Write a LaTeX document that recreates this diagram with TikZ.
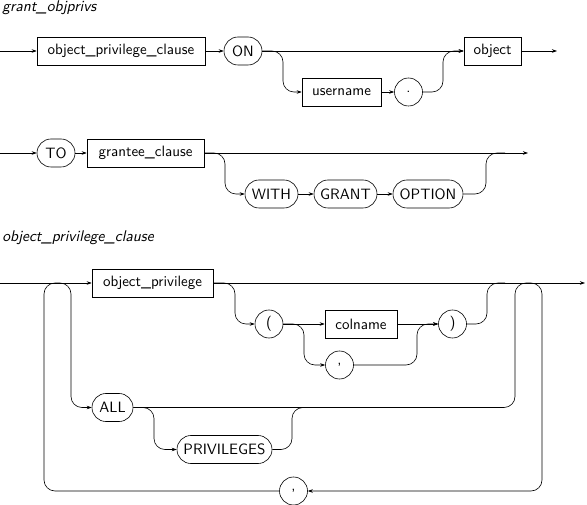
\documentclass[tikz,border=0pt]{standalone}
\usepackage{tikz}
\usetikzlibrary{arrows.meta}
\font\railfont="[lmsans10-regular.otf]" at 15pt
\font\railtitlefont="[lmsans10-oblique.otf]" at 15.5pt

\begin{document}
\begin{tikzpicture}[>={Stealth[length=5pt,width=3.5pt]},x=1pt,y=-1pt,
    font=\railfont,line width=0.6pt,
    nterm/.style={draw,rectangle,minimum height=28,inner sep=0pt},
    term/.style={draw,rectangle,rounded corners=14pt,minimum height=28,inner sep=0pt},
    tchar/.style={draw,circle,minimum size=28,inner sep=0pt},
    rail/.style={rounded corners=11pt},
    title/.style={anchor=base west,inner sep=0pt,font=\railtitlefont},
  ]
    \useasboundingbox (0,0) rectangle (587,505);

    \node[title] (t1) at (2,12) {grant\_objprivs};
    \coordinate (s1) at (0,51);
    \node[nterm,minimum width=168] (opc) at (121,51) {object\_privilege\_clause};
    \node[term,minimum width=38] (on) at (243,51) {ON};
    \node[nterm,minimum width=79] (user) at (341.5,92) {username};
    \node[tchar] (dot) at (408.5,92) {.};
    \node[nterm,minimum width=57] (obj) at (492.5,51) {object};
    \coordinate (e1) at (557,51);
    \draw[->] (s1) -- (opc.west);
    \draw[->] (opc) -- (on);
    \draw[->] (on) -- (obj);
    \draw[->,rail] (on.east) -- (283,51) -- (283,92) -- (user.west);
    \draw[->] (user) -- (dot);
    \draw[->,rail] (dot.east) -- (443,92) -- (443,51) -- (obj.west);
    \draw[->] (obj) -- (e1);

    \coordinate (s2) at (0,153);
    \node[term,minimum width=38] (to) at (56,153) {TO};
    \node[nterm,minimum width=117] (gc) at (145.5,153) {grantee\_clause};
    \node[term,minimum width=53] (with) at (271.5,194) {WITH};
    \node[term,minimum width=63] (grant) at (345.5,194) {GRANT};
    \node[term,minimum width=70] (option) at (428,194) {OPTION};
    \coordinate (e2) at (528,153);
    \draw[->] (s2) -- (to.west);
    \draw[->] (to) -- (gc);
    \draw[->] (gc.east) -- (e2);
    \draw[->,rail] (gc.east) -- (225,153) -- (225,194) -- (with.west);
    \draw[->] (with) -- (grant);
    \draw[->] (grant) -- (option);
    \draw[rail] (option.east) -- (486,194) -- (486,153) -- (505,153);

    \node[title] (t2) at (2,242) {object\_privilege\_clause};
    \coordinate (s3) at (0,283);
    \node[nterm,minimum width=121] (op) at (152.5,283) {object\_privilege};
    \node[tchar] (lpar) at (269,324) {(};
    \node[nterm,minimum width=72] (col) at (361,324) {colname};
    \node[tchar] (rpar) at (452.5,324) {)};
    \node[tchar] (com1) at (339.5,365) {,};
    \node[term,minimum width=41] (all) at (112.5,407.5) {ALL};
    \node[term,minimum width=95] (priv) at (224.5,449.5) {PRIVILEGES};
    \node[tchar] (com2) at (293.5,491) {,};
    \coordinate (e3) at (585,283);
    \draw[->] (s3) -- (op.west);
    \draw[->] (op.east) -- (e3);
    \draw[->,rail] (op.east) -- (235,283) -- (235,324) -- (lpar.west);
    \draw[->] (lpar) -- (col);
    \draw[->] (col) -- (rpar);
    \draw[->,rail] (lpar.east) -- (304,324) -- (304,365) -- (com1.west);
    \draw[->,rail] (com1.east) -- (417,365) -- (417,324) -- (rpar.west);
    \draw[rail] (rpar.east) -- (487,324) -- (487,283) -- (505,283);
    \draw[->,rail] (com2.west) -- (44,491) -- (44,283) -- (71,283) -- (71,407.5) -- (all.west);
    \draw[->,rail] (all.east) -- (515,407.5) -- (515,283) -- (542,283) -- (542,491) -- (com2.east);
    \draw[->,rail] (all.east) -- (154,407.5) -- (154,449.5) -- (priv.west);
    \draw[rail] (priv.east) -- (292,449.5) -- (292,407.5) -- (310,407.5);
\end{tikzpicture}
\end{document}
